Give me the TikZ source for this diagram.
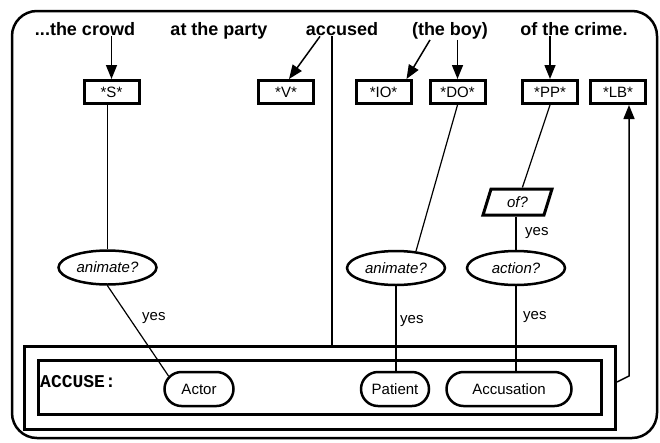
\documentclass[tikz,border=0pt]{standalone}
\usepackage{fontspec}
\setmainfont{Liberation Sans}
\newfontfamily\codefont{Liberation Mono}
\usetikzlibrary{arrows.meta,shapes.geometric,shapes.misc}
\tikzstyle{wort}=[font=\fontsize{18}{20}\selectfont\bfseries, inner sep=1pt, anchor=base]
\tikzstyle{slot}=[draw, line width=3pt, minimum width=55pt, minimum height=23pt, inner sep=0pt, font=\fontsize{15}{17}\selectfont]
\tikzstyle{test}=[draw, ellipse, line width=2.5pt, minimum width=98pt, minimum height=34pt, inner sep=0pt, font=\fontsize{15}{17}\selectfont\itshape]
\tikzstyle{frage}=[draw, trapezium, trapezium left angle=74, trapezium right angle=106, trapezium stretches=true, minimum width=69pt, minimum height=26pt, line width=3pt, inner sep=0pt, font=\fontsize{15}{17}\selectfont\itshape]
\tikzstyle{rolle}=[draw, rounded rectangle, line width=2.5pt, minimum height=34pt, inner sep=0pt, font=\fontsize{15}{17}\selectfont]
\tikzstyle{kasten}=[draw, line width=3pt, inner sep=0pt]
\tikzstyle{pfeil}=[-{Triangle[length=14pt,width=11pt]}, line width=1.5pt]
\tikzstyle{kante}=[line width=1.2pt]
\tikzstyle{ja}=[font=\fontsize{15}{17}\selectfont, anchor=west, inner sep=0pt]

\begin{document}
\begin{tikzpicture}[x=1pt,y=-1pt]
			\useasboundingbox (0,0) rectangle (660,442);
			% Rahmen zeichnen
			\draw[line width=2.5pt, rounded corners=25pt] (12,11) rectangle (657,438);
			% Satz zeichnen
			\node[wort] (crowd) at (85,35) {...the crowd};
			\node[wort] (party) at (219,35) {at the party};
			\node[wort] (accused) at (342,35) {accused};
			\node[wort] (boy) at (450,35) {(the boy)};
			\node[wort] (crime) at (574,35) {of the crime.};
			% Slots zeichnen
			\node[slot] (S) at (111.5,92) {*S*};
			\node[slot] (V) at (286,92) {*V*};
			\node[slot] (IO) at (383.5,92) {*IO*};
			\node[slot] (DO) at (457.5,92) {*DO*};
			\node[slot] (PP) at (550,92) {*PP*};
			\node[slot] (LB) at (618,92) {*LB*};
			% Pfeile vom Satz zu den Slots
			\draw[pfeil] (S.north |- crowd.south) -- (S.north);
			\draw[pfeil] ([xshift=-22pt]accused.south) -- ([xshift=3pt]V.north);
			\draw[pfeil] ([xshift=-20pt]boy.south) -- ([xshift=-6pt]IO.north east);
			\draw[pfeil] (DO.north |- boy.south) -- (DO.north);
			\draw[pfeil] (PP.north |- crime.south) -- (PP.north);
			% Tests zeichnen
			\node[test] (an1) at (107.5,267.5) {animate?};
			\node[test] (an2) at (396,268) {animate?};
			\node[test] (act) at (516,268) {action?};
			\node[frage] (of) at (517.5,202) {of?};
			% Rahmen ACCUSE zeichnen
			\node[kasten, minimum width=591pt, minimum height=83pt] (aussen) at (320,388) {};
			\node[kasten, minimum width=563pt, minimum height=54pt] (innen) at (320,387.5) {};
			\node[anchor=base west, inner sep=0pt, font=\codefont\bfseries\fontsize{18}{20}\selectfont] (accuse) at (40,387) {ACCUSE:};
			\node[rolle, minimum width=69pt] (actor) at (199,389) {Actor};
			\node[rolle, minimum width=68pt] (patient) at (395,389) {Patient};
			\node[rolle, minimum width=125pt] (accusation) at (509,389) {Accusation};
			% Verbindungen zeichnen
			\draw[kante] (S.south -| an1.north) -- (an1.north);
			\draw[kante] (an1.south) -- (actor.157);
			\draw[kante] (DO.south) -- (an2.40);
			\draw[kante] (an2.south) -- (an2.south |- patient.north);
			\draw[kante] (PP.south) -- (of);
			\draw[kante] (of.south -| act.north) -- (act.north);
			\draw[kante] (act.south) -- (act.south |- accusation.north);
			% Linie von accused
			\coordinate (fuss) at (332,0);
			\draw[kante] (fuss |- accused.south) -- (fuss |- aussen.north);
			% Pfeil zurueck zu *LB*
			\coordinate (knick) at (629,376);
			\draw[pfeil] ([yshift=6pt]aussen.east) -- (knick) -- (knick |- LB.south);
			% yes beschriften
			\node[ja] (ja1) at (142,318) {yes};
			\node[ja] (ja2) at (400,321) {yes};
			\node[ja] (ja3) at (525,233) {yes};
			\node[ja] (ja4) at (523,317) {yes};
		\end{tikzpicture}
\end{document}
